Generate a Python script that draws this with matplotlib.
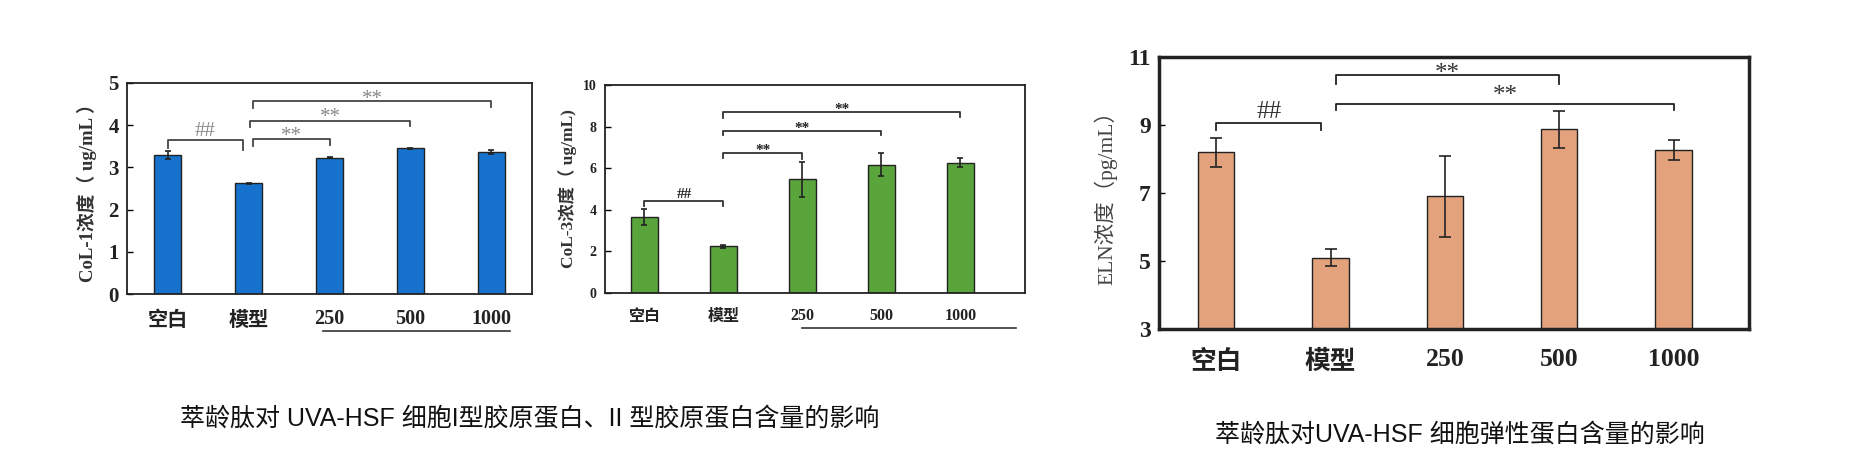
#%% IMPORTS ~~~~~~~~~~~~~~~~~~~~~~~~~~~~~~~~~~~~~~~~~~~~
import matplotlib
matplotlib.use('Agg')
import matplotlib.pyplot as plt
import matplotlib.transforms as mtransforms

#%% DATA ~~~~~~~~~~~~~~~~~~~~~~~~~~~~~~~~~~~~~~~~~~~~
groups = ['空白', '模型', '250', '500', '1000']

col1_mean = [3.30, 2.62, 3.23, 3.45, 3.36]
col1_err = [0.10, 0.02, 0.01, 0.02, 0.05]

col3_mean = [3.65, 2.24, 5.47, 6.16, 6.27]
col3_err = [0.38, 0.08, 0.85, 0.55, 0.20]

eln_mean = [8.20, 5.09, 6.90, 8.87, 8.27]
eln_err = [0.43, 0.25, 1.20, 0.54, 0.29]

# (x0, x1, y, left leg end, right leg end, label, label offset)
col1_sig = [(0, 0.93, 3.64, 3.45, 3.42, '##', 0.20),
            (1.05, 2, 3.67, 3.50, 3.52, '**', 0.06),
            (1.02, 3, 4.11, 3.96, 3.98, '**', 0.08),
            (1.05, 4, 4.57, 4.40, 4.42, '**', 0.05)]
col3_sig = [(0, 1, 4.40, 4.16, 4.20, '##', 0.35),
            (1, 2, 6.75, 6.48, 6.43, '**', 0.12),
            (1, 3, 7.79, 7.60, 7.60, '**', 0.12),
            (1, 4, 8.72, 8.43, 8.45, '**', 0.12)]
eln_sig = [(0, 0.92, 9.06, 8.84, 8.84, '##', 0.32),
           (1.05, 3, 10.46, 10.21, 10.21, '**', 0.03),
           (1.05, 4, 9.63, 9.43, 9.43, '**', 0.22)]

left_caption = '萃龄肽对 UVA-HSF 细胞I型胶原蛋白、II 型胶原蛋白含量的影响'
right_caption = '萃龄肽对UVA-HSF 细胞弹性蛋白含量的影响'

#%% CONFIGURATION ~~~~~~~~~~~~~~~~~~~~~~~~~~~~~~~~~~~~~~~~~~~~
SERIF = ['Liberation Serif', 'Noto Sans CJK SC']
CJK = ['Noto Sans CJK SC', 'DejaVu Sans']
CAPTION = ['Liberation Sans', 'Noto Sans CJK SC']
plt.rcParams['font.family'] = SERIF


def draw_panel(ax, means, errs, sig, color, width, ylim, yticks, xlim,
               tick_fs, xlab_fs, ylabel, ylab_fs, ylab_weight, ylab_color,
               spine_w, cap, sig_color, star_color, star_fs, star_weight,
               ylab_pad=8):
    x = list(range(len(groups)))
    ax.bar(x, means, width=width, color=color, edgecolor='#222222',
           linewidth=1.0, zorder=2)
    ax.errorbar(x, means, yerr=errs, fmt='none', ecolor='#222222',
                elinewidth=1.2, capsize=cap, capthick=1.2, zorder=3)
    ax.set_xlim(*xlim)
    ax.set_ylim(*ylim)
    ax.set_yticks(yticks)
    ax.set_yticklabels([str(t) for t in yticks], fontsize=tick_fs,
                       fontweight='bold', family=SERIF, color='#222222')
    ax.set_xticks(x)
    ax.set_xticklabels([])
    tr = mtransforms.blended_transform_factory(ax.transData, ax.transAxes)
    for i, g in enumerate(groups):
        fam = CJK if i < 2 else SERIF
        ax.text(i, -0.07, g, transform=tr, ha='center', va='top',
                fontsize=xlab_fs, fontweight='bold', family=fam,
                color='#222222')
    ax.tick_params(axis='y', direction='in', length=4, width=1, pad=6)
    ax.tick_params(axis='x', length=0)
    for s in ax.spines.values():
        s.set_linewidth(spine_w)
        s.set_color('#222222')
    ax.set_ylabel(ylabel, fontsize=ylab_fs, fontweight=ylab_weight,
                  family=SERIF, color=ylab_color, labelpad=ylab_pad)
    for x0, x1, y, yl, yr, lab, off in sig:
        ax.plot([x0, x0, x1, x1], [yl, y, y, yr], color=sig_color,
                linewidth=1.3, zorder=4)
        ax.text((x0 + x1) / 2, y + off, lab, ha='center', va='center',
                fontsize=star_fs, color=star_color, family=SERIF,
                fontweight=star_weight)


#%% FIGURE ~~~~~~~~~~~~~~~~~~~~~~~~~~~~~~~~~~~~~~~~~~~~
W, H = 1857, 459
fig = plt.figure(figsize=(W / 100, H / 100), dpi=100)

ax1 = fig.add_axes([127 / W, 1 - 294 / H, 405 / W, 211 / H])
draw_panel(ax1, col1_mean, col1_err, col1_sig, '#1672CC', 0.33, (0, 5),
           [0, 1, 2, 3, 4, 5], (-0.5, 4.5), 15, 14.5,
           'CoL-1浓度（ ug/mL ）', 13.5, 'bold', '#333333', 1.3, 2,
           '#444444', '#888888', 15, 'normal')

ax2 = fig.add_axes([605 / W, 1 - 293 / H, 420 / W, 208 / H])
draw_panel(ax2, col3_mean, col3_err, col3_sig, '#5AA43C', 0.34, (0, 10),
           [0, 2, 4, 6, 8, 10], (-0.5, 4.82), 10, 11.5,
           'CoL-3浓度（ ug/mL)', 12.5, 'bold', '#333333', 1.3, 2,
           '#333333', '#222222', 11, 'bold', ylab_pad=4)

ax3 = fig.add_axes([1159 / W, 1 - 329 / H, 590 / W, 272 / H])
draw_panel(ax3, eln_mean, eln_err, eln_sig, '#E3A27C', 0.32, (3, 11),
           [3, 5, 7, 9, 11], (-0.5, 4.66), 17, 18.5,
           'ELN浓度（pg/mL）', 15.5, 'normal', '#444444', 2.5, 4,
           '#222222', '#333333', 18, 'normal')

# group lines under the dose labels
for ax, x0, x1, yy in [(ax1, 1.92, 4.23, -0.175), (ax2, 2.0, 4.7, -0.168)]:
    tr = mtransforms.blended_transform_factory(ax.transData, ax.transAxes)
    ax.plot([x0, x1], [yy, yy], color='#333333', linewidth=1.2,
            transform=tr, clip_on=False)

fig.text(530 / W, 1 - 419 / H, left_caption, ha='center', va='center',
         fontsize=18, family=CAPTION, color='#111111')
fig.text(1460 / W, 1 - 435 / H, right_caption, ha='center', va='center',
         fontsize=18, family=CAPTION, color='#111111')

fig.savefig('out.png', dpi=100)
